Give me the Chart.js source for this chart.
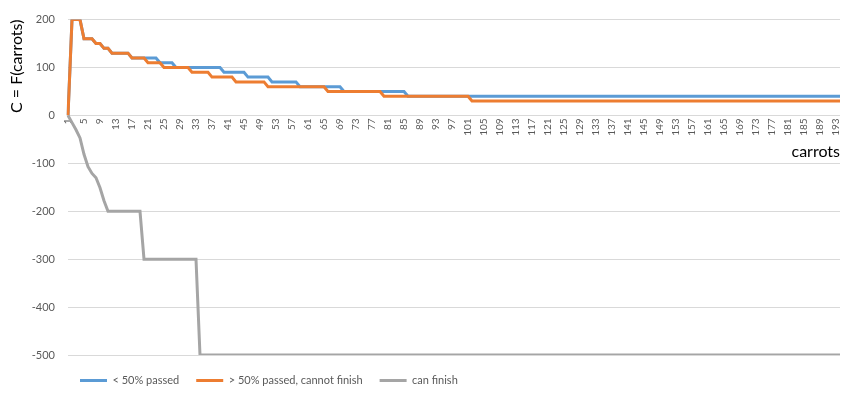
<!DOCTYPE html>
<html>
<head>
<meta charset="utf-8">
<script src="https://cdn.jsdelivr.net/npm/chart.js@4"></script>
<style>
  html, body { margin: 0; padding: 0; background: #fff; }
</style>
</head>
<body>
<canvas id="chart" width="855" height="394"></canvas>
<script>
// Category axis: 1 .. 194 carrots, labelled every 4th
const categories = Array.from({ length: 194 }, (_, i) => String(i + 1));
const labelEvery = 4;

// Series as [value, number of consecutive categories]
const underHalfRuns = [
  [0, 1], [200, 3], [160, 3], [150, 2], [140, 2], [130, 5], [120, 7], [110, 4],
  [100, 12], [90, 6], [80, 6], [70, 7], [60, 11], [50, 16], [40, 109]
];
const overHalfRuns = [
  [0, 1], [200, 3], [160, 3], [150, 2], [140, 2], [130, 5], [120, 4], [110, 4],
  [100, 7], [90, 5], [80, 6], [70, 8], [60, 15], [50, 14], [40, 22], [30, 93]
];
const canFinishRuns = [
  [0, 1], [-15, 1], [-30, 1], [-47, 1], [-81, 1], [-107, 1], [-121, 1], [-130, 1],
  [-151, 1], [-178, 1], [-200, 9], [-300, 14], [-500, 161]
];

const seriesNames = ['< 50% passed', '> 50% passed, cannot finish', 'can finish'];
const seriesColors = ['#5b9bd5', '#ed7d31', '#a5a5a5'];

function expand(runs) {
  const out = [];
  runs.forEach(([v, n]) => { for (let i = 0; i < n; i++) out.push(v); });
  return out;
}

const font = 'Lato, "Open Sans", sans-serif';
const textGrey = '#595959';

function lineSet(idx, data, order) {
  return {
    label: seriesNames[idx],
    data: data,
    borderColor: seriesColors[idx],
    backgroundColor: seriesColors[idx],
    pointBorderColor: seriesColors[idx],
    pointBackgroundColor: seriesColors[idx],
    pointBorderWidth: 3,
    borderWidth: 3,
    pointRadius: 0,
    tension: 0,
    order: order
  };
}

// move the legend to where Excel put it
const legendShift = {
  id: 'legendShift',
  afterLayout(chart) {
    chart.legend.left = 63;
    chart.legend.top += 3;
  }
};

new Chart(document.getElementById('chart'), {
  type: 'line',
  data: {
    labels: categories,
    datasets: [
      lineSet(0, expand(underHalfRuns), 2),
      lineSet(1, expand(overHalfRuns), 1),
      lineSet(2, expand(canFinishRuns), 0)
    ]
  },
  options: {
    responsive: false,
    animation: false,
    layout: { padding: { top: 18, right: 12, bottom: 6, left: 0 } },
    scales: {
      x: {
        position: { y: 0 },
        offset: false,
        grid: { display: false, drawTicks: false },
        border: { display: false },
        ticks: {
          autoSkip: false,
          minRotation: 90,
          maxRotation: 90,
          padding: 3,
          color: textGrey,
          font: { family: font, size: 10 },
          callback: (v, i) => (i % labelEvery === 0 ? categories[i] : '')
        },
        title: {
          display: true,
          text: 'carrots',
          align: 'end',
          color: '#000',
          font: { family: font, size: 16 },
          padding: { top: 3, bottom: 0 }
        }
      },
      y: {
        min: -500,
        max: 200,
        ticks: {
          stepSize: 100,
          padding: 13,
          color: textGrey,
          font: { family: font, size: 11 }
        },
        grid: { color: '#d9d9d9', drawTicks: false },
        border: { display: false },
        title: {
          display: true,
          text: 'C = F(carrots)',
          align: 'end',
          color: '#000',
          font: { family: font, size: 16 },
          padding: { top: 7, bottom: 0 }
        },
        afterFit(scale) {
          scale.width = 68;
        }
      }
    },
    plugins: {
      legend: {
        position: 'bottom',
        align: 'start',
        maxHeight: 33,
        labels: {
          usePointStyle: true,
          pointStyle: 'line',
          pointStyleWidth: 27,
          padding: 17,
          color: textGrey,
          font: { family: font, size: 11 },
          sort: (a, b) => a.datasetIndex - b.datasetIndex
        }
      },
      tooltip: { enabled: false }
    }
  },
  plugins: [legendShift]
});
</script>
</body>
</html>
